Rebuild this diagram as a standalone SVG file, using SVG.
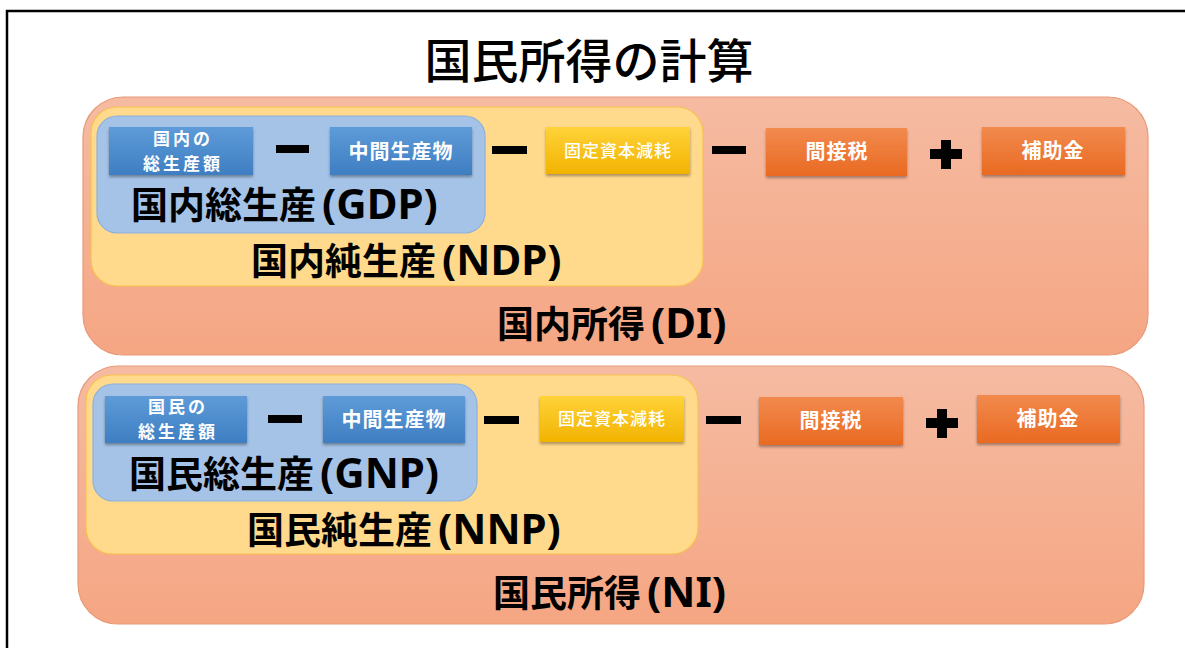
<svg xmlns="http://www.w3.org/2000/svg" width="1185" height="648" viewBox="0 0 1185 648">
<defs>
<linearGradient id="gOuter" x1="0" y1="0" x2="0" y2="1"><stop offset="0" stop-color="#F5BBA2"/><stop offset="1" stop-color="#F5A683"/></linearGradient>
<linearGradient id="gBlue" x1="0" y1="0" x2="0" y2="1"><stop offset="0" stop-color="#5E9BD8"/><stop offset="1" stop-color="#3E7EC2"/></linearGradient>
<linearGradient id="gYel" x1="0" y1="0" x2="0" y2="1"><stop offset="0" stop-color="#FFD33A"/><stop offset="1" stop-color="#F2B300"/></linearGradient>
<linearGradient id="gOra" x1="0" y1="0" x2="0" y2="1"><stop offset="0" stop-color="#F28A4E"/><stop offset="1" stop-color="#E96A22"/></linearGradient>
<filter id="sh" x="-10%" y="-10%" width="120%" height="140%"><feDropShadow dx="0" dy="2" stdDeviation="1.5" flood-color="#000" flood-opacity="0.35"/></filter>
</defs>
<style>
.outer{fill:url(#gOuter);stroke:#E89A78;stroke-width:1.2}
.net{fill:#FFD98C;stroke:#F7C24E;stroke-width:1.2}
.gross{fill:#A5C3E7;stroke:#8DB0DB;stroke-width:1.2}
.bb{fill:url(#gBlue);filter:url(#sh)}
.yb{fill:url(#gYel);filter:url(#sh)}
.ob{fill:url(#gOra);filter:url(#sh)}
.st{font-family:"Noto Sans CJK JP","Noto Sans",sans-serif;font-weight:700;fill:#fff;text-anchor:middle;font-size:20px;letter-spacing:1px}
.st2{font-family:"Noto Sans CJK JP","Noto Sans",sans-serif;font-weight:700;fill:#fff;text-anchor:middle;font-size:17px;letter-spacing:3px}
.st3{font-family:"Noto Sans CJK JP","Noto Sans",sans-serif;font-weight:500;fill:#fff;text-anchor:middle;font-size:17px;letter-spacing:1px}
.lab{font-family:"Noto Sans CJK JP","Noto Sans",sans-serif;font-weight:700;fill:#000;font-size:37px}
.lat{font-family:"Noto Sans","Noto Sans CJK JP",sans-serif;font-weight:700;font-size:42px}
.title{font-family:"Noto Sans CJK JP","Noto Sans",sans-serif;font-weight:500;fill:#000;text-anchor:middle;font-size:47px}
.op{fill:#000}
</style>
<rect width="1185" height="648" fill="#fff"/>
<path d="M7,648 V11 H1185" fill="none" stroke="#000" stroke-width="2.5"/>
<text id="title" class="title" x="589" y="78">国民所得の計算</text>

<g id="di">
<rect class="outer" x="83" y="97" width="1065" height="258" rx="40"/>
<text class="lab" x="497" y="338">国内所得<tspan class="lat" dx="6">(DI)</tspan></text>
</g>
<g id="ndp">
<rect class="net" x="91" y="107" width="612" height="179" rx="26"/>
<text class="lab" x="251" y="275">国内純生産<tspan class="lat" dx="6">(NDP)</tspan></text>
</g>
<g id="gdp">
<rect class="gross" x="97" y="116" width="388" height="117" rx="20"/>
<text class="lab" x="131" y="219">国内総生産<tspan class="lat" dx="6">(GDP)</tspan></text>
</g>
<g id="dom-gross">
<rect class="bb" x="109" y="127" width="144" height="48"/>
<text class="st2"><tspan x="183" y="145">国内の</tspan><tspan x="183" y="170">総生産額</tspan></text>
</g>
<g id="dom-inter">
<rect class="bb" x="330" y="127" width="142" height="48"/>
<text class="st" x="401" y="159">中間生産物</text>
</g>
<g id="dom-dep">
<rect class="yb" x="546" y="127" width="144" height="47"/>
<text class="st3" x="618" y="157">固定資本減耗</text>
</g>
<g id="dom-tax">
<rect class="ob" x="766" y="128" width="141" height="48"/>
<text class="st" x="837" y="159">間接税</text>
</g>
<g id="dom-sub">
<rect class="ob" x="982" y="127" width="143" height="48"/>
<text class="st" x="1053" y="158">補助金</text>
</g>

<g id="ni">
<rect class="outer" x="78" y="366" width="1066" height="258" rx="40"/>
<text class="lab" x="493" y="607">国民所得<tspan class="lat" dx="6">(NI)</tspan></text>
</g>
<g id="nnp">
<rect class="net" x="86" y="375" width="612" height="179" rx="26"/>
<text class="lab" x="247" y="544">国民純生産<tspan class="lat" dx="6">(NNP)</tspan></text>
</g>
<g id="gnp">
<rect class="gross" x="93" y="384" width="384" height="117" rx="20"/>
<text class="lab" x="129" y="488">国民総生産<tspan class="lat" dx="6">(GNP)</tspan></text>
</g>
<g id="nat-gross">
<rect class="bb" x="105" y="396" width="142" height="47"/>
<text class="st2"><tspan x="178" y="413">国民の</tspan><tspan x="178" y="438">総生産額</tspan></text>
</g>
<g id="nat-inter">
<rect class="bb" x="323" y="396" width="142" height="47"/>
<text class="st" x="394" y="427">中間生産物</text>
</g>
<g id="nat-dep">
<rect class="yb" x="540" y="396" width="144" height="46"/>
<text class="st3" x="612" y="425">固定資本減耗</text>
</g>
<g id="nat-tax">
<rect class="ob" x="759" y="397" width="144" height="48"/>
<text class="st" x="831" y="428">間接税</text>
</g>
<g id="nat-sub">
<rect class="ob" x="977" y="395" width="143" height="48"/>
<text class="st" x="1048" y="426">補助金</text>
</g>

<g id="operators">
<rect class="op" x="276" y="145" width="33" height="8"/>
<rect class="op" x="492" y="146" width="35" height="8"/>
<rect class="op" x="712" y="146" width="34" height="8"/>
<path class="op" d="M941,140 h10 v9 h11 v10 h-11 v10 h-10 v-10 h-11 v-10 h11 z"/>
<rect class="op" x="268" y="415" width="34" height="8"/>
<rect class="op" x="484" y="416" width="35" height="8"/>
<rect class="op" x="706" y="416" width="35" height="8"/>
<path class="op" d="M937,409 h10 v9 h11 v10 h-11 v10 h-10 v-10 h-11 v-10 h11 z"/>
</g>
</svg>
